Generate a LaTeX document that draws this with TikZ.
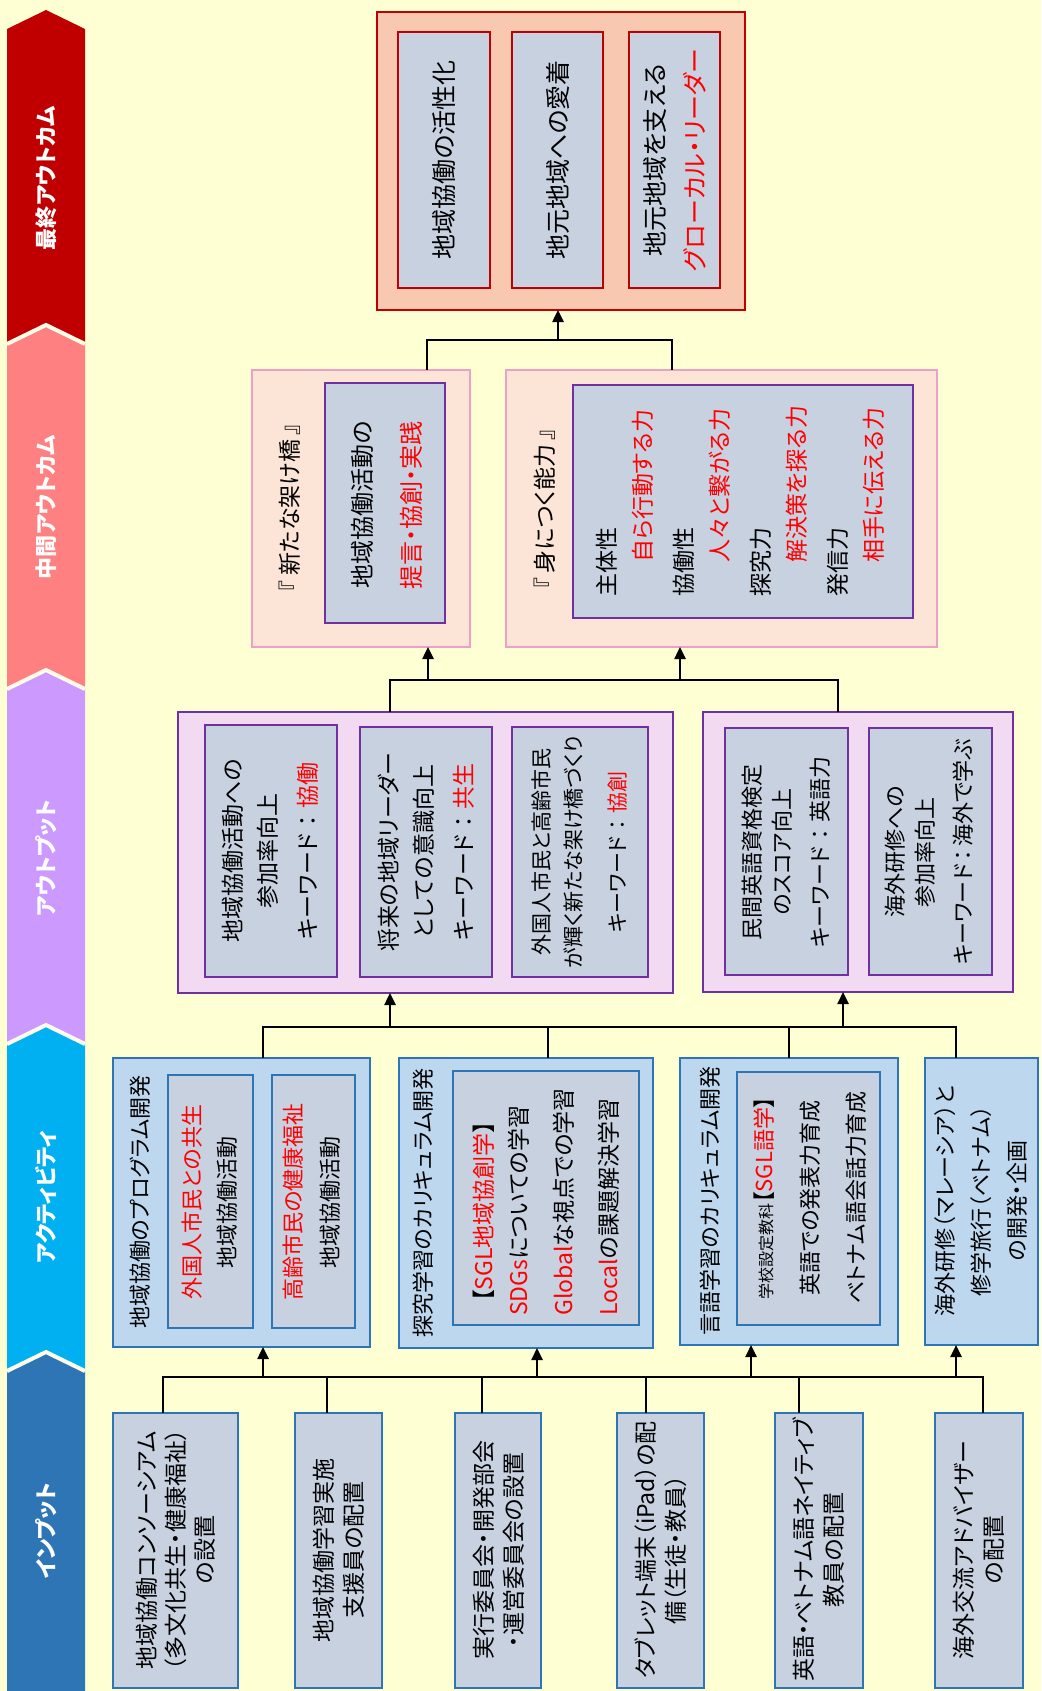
\documentclass[tikz,border=0pt]{standalone}
\usepackage{fontspec}
\setmainfont[RawFeature=+palt]{Noto Sans CJK JP}
\usetikzlibrary{arrows.meta,calc}
\definecolor{bg}{RGB}{255,255,212}
\definecolor{bandR}{RGB}{192,0,0}
\definecolor{bandP}{RGB}{255,128,128}
\definecolor{bandL}{RGB}{204,153,255}
\definecolor{bandC}{RGB}{0,176,240}
\definecolor{bandB}{RGB}{46,117,182}
\definecolor{bandsep}{RGB}{255,252,232}
\definecolor{innerfill}{RGB}{200,209,224}
\definecolor{finfill}{RGB}{248,200,176}
\definecolor{midfill}{RGB}{252,228,214}
\definecolor{midline}{RGB}{236,160,200}
\definecolor{purp}{RGB}{112,48,160}
\definecolor{outfill}{RGB}{243,218,243}
\definecolor{actfill}{RGB}{189,215,238}
\definecolor{actline}{RGB}{46,117,182}
\definecolor{txtred}{RGB}{255,0,0}
\newcommand\fs[2]{\fontsize{#1}{#2}\selectfont}
\newcommand\rd[1]{\textcolor{txtred}{#1}}
\newcommand\kw{キーワード\hspace{0.3em}：\hspace{0.3em}}
\newcommand\mybox[6]{\node[#2, minimum width={(#5)-(#3)}, minimum height={(#6)-(#4)}] (#1) at ({((#3)+(#5))/2},{((#4)+(#6))/2}) {};}
\tikzset{
  boxbase/.style={draw, rectangle, line width=2.5pt, inner sep=0pt, outer sep=0pt},
  finbox/.style={boxbase, draw=bandR, fill=finfill},
  fininner/.style={boxbase, draw=bandR, fill=innerfill, line width=2.2pt},
  midbox/.style={boxbase, draw=midline, fill=midfill, line width=2pt},
  midinner/.style={boxbase, draw=purp, fill=innerfill},
  outbox/.style={boxbase, draw=purp, fill=outfill},
  outinner/.style={boxbase, draw=purp, fill=innerfill},
  actbox/.style={boxbase, draw=actline, fill=actfill},
  actinner/.style={boxbase, draw=actline, fill=innerfill},
  inbox/.style={boxbase, draw=actline, fill=innerfill},
  txt/.style={rotate=90, align=center, inner sep=0pt, text=black},
  bandtxt/.style={rotate=90, text=white, inner sep=0pt, font=\fs{22}{26}\bfseries},
  conn/.style={line width=2.5pt, draw=black},
  arr/.style={conn, -{Triangle[length=12pt,width=11pt]}},
}
\begin{document}
\begin{tikzpicture}[x=1pt,y=-1pt]
\useasboundingbox (0,0) rectangle (1041,1691);
\fill[bg] (0,0) rectangle (1041,1691);

% ---------- bands ----------
\fill[bandR] (7,29) -- (46,10) -- (85,29) -- (85,344) -- (46,325) -- (7,344) -- cycle;
\fill[bandP] (7,344) -- (46,325) -- (85,344) -- (85,689) -- (46,670) -- (7,689) -- cycle;
\fill[bandL] (7,689) -- (46,670) -- (85,689) -- (85,1044) -- (46,1025) -- (7,1044) -- cycle;
\fill[bandC] (7,1044) -- (46,1025) -- (85,1044) -- (85,1371) -- (46,1352) -- (7,1371) -- cycle;
\fill[bandB] (7,1371) -- (46,1352) -- (85,1371) -- (85,1691) -- (7,1691) -- cycle;
\draw[bandsep, line width=4pt] (7,344) -- (46,325) -- (85,344);
\draw[bandsep, line width=4pt] (7,689) -- (46,670) -- (85,689);
\draw[bandsep, line width=4pt] (7,1044) -- (46,1025) -- (85,1044);
\draw[bandsep, line width=4pt] (7,1371) -- (46,1352) -- (85,1371);
\node[bandtxt] (b1) at (46,178) {最終アウトカム};
\node[bandtxt] (b2) at (46,507) {中間アウトカム};
\node[bandtxt] (b3) at (46,858) {アウトプット};
\node[bandtxt] (b4) at (46,1197) {アクティビティ};
\node[bandtxt] (b5) at (46,1531) {インプット};

% ---------- final outcome ----------
\mybox{F}{finbox}{377}{12}{745}{310}
\mybox{F1}{fininner}{398}{32}{490}{288}
\mybox{F2}{fininner}{512}{32}{603}{288}
\mybox{F3}{fininner}{629}{32}{720}{288}
\node[txt, font=\fs{25}{40}] (tF1) at (F1) {地域協働の活性化};
\node[txt, font=\fs{25}{40}] (tF2) at (F2) {地元地域への愛着};
\node[txt, font=\fs{25}{40}] (tF3) at (F3) {地元地域を支える\\\rd{グローカル・リーダー}};

% ---------- intermediate outcome ----------
\mybox{M1}{midbox}{252}{370}{470}{647}
\mybox{M1i}{midinner}{325}{383}{445}{623}
\mybox{M2}{midbox}{506}{370}{937}{647}
\mybox{M2i}{midinner}{573}{385}{913}{618}
\node[txt, font=\fs{23}{30}] (tM1h) at (290,508) {『 新たな架け橋 』};
\node[txt, font=\fs{24}{49}] (tM1i) at (387,505) {地域協働活動の\\\rd{提言・協創・実践}};
\node[txt, font=\fs{23}{30}] (tM2h) at (545,509) {『 身につく能力 』};
\node[txt, align=left, anchor=west, font=\fs{23}{36}] (tM2i) at (740,597) {主体性\\
\hspace*{34pt}\rd{自ら行動する力}\\[5pt]
協働性\\
\hspace*{34pt}\rd{人々と繋がる力}\\[5pt]
探究力\\
\hspace*{34pt}\rd{解決策を探る力}\\[5pt]
発信力\\
\hspace*{34pt}\rd{相手に伝える力}};

% ---------- output ----------
\mybox{OA}{outbox}{178}{712}{673}{993}
\mybox{a1}{outinner}{205}{725}{337}{977}
\mybox{a2}{outinner}{360}{727}{492}{977}
\mybox{a3}{outinner}{512}{727}{648}{977}
\mybox{OB}{outbox}{703}{712}{1013}{992}
\mybox{ob1}{outinner}{725}{728}{848}{975}
\mybox{ob2}{outinner}{869}{728}{992}{975}
\node[txt, font=\fs{23}{35}] (ta1) at (270,851) {地域協働活動への\\参加率向上\\[5pt]\kw\rd{協働}};
\node[txt, font=\fs{23}{35}] (ta2) at (426,852) {将来の地域リーダー\\としての意識向上\\[5pt]\kw\rd{共生}};
\node[txt, font=\fs{21}{32}] (ta3) at (579,852) {外国人市民と高齢市民\\が輝く新たな架け橋づくり\\[12pt]\kw\rd{協創}};
\node[txt, font=\fs{22}{30}] (tb1) at (786,852) {民間英語資格検定\\のスコア向上\\[8pt]\kw 英語力};
\node[txt, font=\fs{22}{30}] (tb2) at (929,852) {海外研修への\\参加率向上\\[8pt]キーワード\hspace{0.15em}：\hspace{0.15em}海外で学ぶ};

% ---------- activity ----------
\mybox{Act1}{actbox}{113}{1058}{370}{1347}
\mybox{Act1a}{actinner}{168}{1075}{253}{1328}
\mybox{Act1b}{actinner}{272}{1075}{355}{1328}
\mybox{Act2}{actbox}{399}{1058}{653}{1348}
\mybox{Act2i}{actinner}{453}{1071}{639}{1325}
\mybox{Act3}{actbox}{680}{1058}{898}{1345}
\mybox{Act3i}{actinner}{737}{1072}{880}{1325}
\mybox{Act4}{actbox}{925}{1058}{1038}{1345}
\node[txt, font=\fs{22}{30}] (tA1) at (140,1202) {地域協働のプログラム開発};
\node[txt, font=\fs{22}{35}] (tA1a) at (210,1202) {\rd{外国人市民との共生}\\地域協働活動};
\node[txt, font=\fs{22}{37}] (tA1b) at (312,1202) {\rd{高齢市民の健康福祉}\\地域協働活動};
\node[txt, font=\fs{22}{30}] (tA2) at (423,1203) {探究学習のカリキュラム開発};
\node[txt, align=left, anchor=west, font=\fs{23}{35}] (tA2i) at (546,1316) {\hspace*{14pt}【\rd{SGL地域協創学}】\\\rd{SDGs}についての学習\\[10pt]\rd{Global}な視点での学習\\[10pt]\rd{Local}の課題解決学習};
\node[txt, font=\fs{22}{30}] (tA3) at (710,1201) {言語学習のカリキュラム開発};
\node[txt, font=\fs{22}{46}] (tA3i) at (810,1198) {{\fs{16}{46}学校設定教科}【\rd{SGL語学}】\\英語での発表力育成\\ベトナム語会話力育成};
\node[txt, font=\fs{22}{36}] (tA4) at (981,1201) {海外研修（マレーシア）と\\修学旅行（ベトナム）\\の開発・企画};

% ---------- input ----------
\mybox{In1}{inbox}{113}{1413}{238}{1688}
\mybox{In2}{inbox}{295}{1413}{382}{1688}
\mybox{In3}{inbox}{455}{1413}{541}{1688}
\mybox{In4}{inbox}{617}{1413}{704}{1688}
\mybox{In5}{inbox}{775}{1413}{863}{1688}
\mybox{In6}{inbox}{935}{1413}{1023}{1688}
\node[txt, font=\fs{23}{29}] (tI1) at (176,1550) {地域協働コンソーシアム\\（多文化共生・健康福祉）\\の設置};
\node[txt, font=\fs{23}{30}] (tI2) at (339,1550) {地域協働学習実施\\支援員の配置};
\node[txt, font=\fs{23}{30}] (tI3) at (499,1550) {実行委員会・開発部会\\・運営委員会の設置};
\node[txt, font=\fs{23}{30}] (tI4) at (661,1550) {タブレット端末（iPad）の配\\備（生徒・教員）};
\node[txt, font=\fs{23}{30}] (tI5) at (819,1550) {英語・ベトナム語ネイティブ\\教員の配置};
\node[txt, font=\fs{23}{30}] (tI6) at (979,1550) {海外交流アドバイザー\\の配置};

% ---------- connectors ----------
\coordinate (jFa) at (427,340);
\coordinate (jFb) at (672,340);
\coordinate (jFc) at (558,340);
\draw[conn] (jFa |- M1.north) -- (jFa) -- (jFb) -- (jFb |- M2.north);
\draw[arr] (jFc) -- (jFc |- F.south);
\coordinate (jMa) at (390,680);
\coordinate (jMb) at (838,680);
\coordinate (jMc) at (428,680);
\coordinate (jMd) at (680,680);
\draw[conn] (jMa |- OA.north) -- (jMa) -- (jMb) -- (jMb |- OB.north);
\draw[arr] (jMc) -- (jMc |- M1.south);
\draw[arr] (jMd) -- (jMd |- M2.south);
\coordinate (jAa) at (263,1027);
\coordinate (jAb) at (548,1027);
\coordinate (jAc) at (789,1027);
\coordinate (jAd) at (956,1027);
\coordinate (jAe) at (390,1027);
\coordinate (jAf) at (843,1027);
\draw[conn] (jAa |- Act1.north) -- (jAa) -- (jAd) -- (jAd |- Act4.north);
\draw[conn] (jAb) -- (jAb |- Act2.north);
\draw[conn] (jAc) -- (jAc |- Act3.north);
\draw[arr] (jAe) -- (jAe |- OA.south);
\draw[arr] (jAf) -- (jAf |- OB.south);
\coordinate (jI1) at (163,1377);
\coordinate (jI2) at (327,1377);
\coordinate (jI3) at (482,1377);
\coordinate (jI4) at (646,1377);
\coordinate (jI5) at (799,1377);
\coordinate (jI6) at (983,1377);
\draw[conn] (jI1 |- In1.north) -- (jI1) -- (jI6) -- (jI6 |- In6.north);
\draw[conn] (jI2) -- (jI2 |- In2.north);
\draw[conn] (jI3) -- (jI3 |- In3.north);
\draw[conn] (jI4) -- (jI4 |- In4.north);
\draw[conn] (jI5) -- (jI5 |- In5.north);
\coordinate (jK1) at (263,1377);
\coordinate (jK2) at (537,1377);
\coordinate (jK3) at (751,1377);
\coordinate (jK4) at (956,1377);
\draw[arr] (jK1) -- (jK1 |- Act1.south);
\draw[arr] (jK2) -- (jK2 |- Act2.south);
\draw[arr] (jK3) -- (jK3 |- Act3.south);
\draw[arr] (jK4) -- (jK4 |- Act4.south);
\end{tikzpicture}
\end{document}
